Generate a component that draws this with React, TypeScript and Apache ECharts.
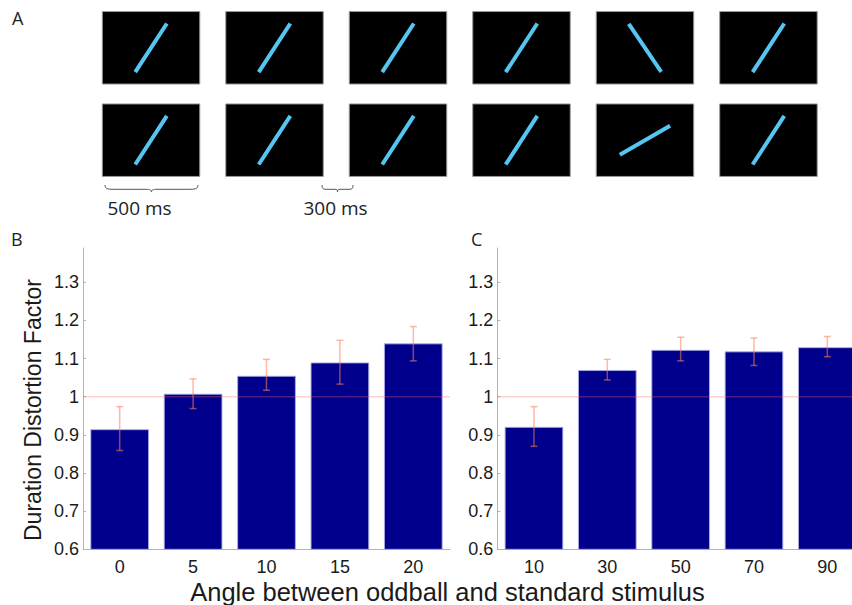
import React, { useEffect, useRef } from "react";
import * as echarts from "echarts";

// Panel A: stimulus sequence (line orientation in degrees)
const stimulusColumns = ["1", "2", "3", "4", "5", "6"];
const stimulusRows = ["seq1", "seq2"];
const row1Angles = [57, 57, 57, 57, 124, 57];
const row2Angles = [57, 57, 57, 57, 30, 57];

// Panel B
const bCategories = ["0", "5", "10", "15", "20"];
const bMeans = [0.915, 1.008, 1.055, 1.09, 1.14];
const bLow = [0.859, 0.969, 1.017, 1.033, 1.094];
const bHigh = [0.974, 1.047, 1.098, 1.148, 1.184];

// Panel C
const cCategories = ["10", "30", "50", "70", "90"];
const cMeans = [0.921, 1.07, 1.123, 1.119, 1.13];
const cLow = [0.87, 1.044, 1.094, 1.082, 1.105];
const cHigh = [0.974, 1.098, 1.156, 1.154, 1.158];

const yMin = 0.6;
const yMax = 1.39;
const yInterval = 0.1;
const refValue = 1;

const BAR = "#00008c";
const ERR = "rgba(255,125,90,0.55)";
const REF = "rgba(255,100,100,0.3)";
const AXIS = "#b4b4b4";
const LABEL_FONT = "Liberation Sans";
const PANEL_FONT = "Open Sans";

echarts.graphic.registerShape(
  "brace500",
  echarts.graphic.extendPath(
    "M0,0 C0,3.5 2,4.3 8,4.3 L41,4.3 C45,4.3 46.5,5 46.5,7 C46.5,5 48,4.3 52,4.3 L85,4.3 C91,4.3 93,3.5 93,0",
    {}
  )
);
echarts.graphic.registerShape(
  "brace300",
  echarts.graphic.extendPath(
    "M0,0 C0,3.5 1,4.3 4,4.3 L13,4.3 C15,4.3 15.5,5 15.5,7 C15.5,5 16,4.3 18,4.3 L27,4.3 C30,4.3 31,3.5 31,0",
    {}
  )
);

function errorSeries(low: number[], high: number[], idx: number) {
  return {
    type: "custom",
    xAxisIndex: idx,
    yAxisIndex: idx,
    z: 5,
    silent: true,
    data: low.map((l, i) => [i, l, high[i]]),
    encode: { x: 0, y: [1, 2] },
    renderItem: (_p: any, api: any) => {
      const x = api.value(0);
      const lo = api.coord([x, api.value(1)]);
      const hi = api.coord([x, api.value(2)]);
      const cap = 3.5;
      const style = { stroke: ERR, lineWidth: 1.5, fill: "none" };
      return {
        type: "group",
        children: [
          { type: "line", shape: { x1: lo[0], y1: lo[1], x2: hi[0], y2: hi[1] }, style },
          { type: "line", shape: { x1: lo[0] - cap, y1: lo[1], x2: lo[0] + cap, y2: lo[1] }, style },
          { type: "line", shape: { x1: hi[0] - cap, y1: hi[1], x2: hi[0] + cap, y2: hi[1] }, style },
        ],
      };
    },
  };
}

function refLineSeries(idx: number) {
  return {
    type: "custom",
    xAxisIndex: idx,
    yAxisIndex: idx,
    z: 6,
    silent: true,
    data: [[0, refValue]],
    encode: { x: 0, y: 1 },
    renderItem: (params: any, api: any) => {
      const cs = params.coordSys;
      const y = api.coord([0, api.value(1)])[1];
      return {
        type: "line",
        shape: { x1: cs.x, y1: y, x2: cs.x + cs.width, y2: y },
        style: { stroke: REF, lineWidth: 1.5 },
      };
    },
  };
}

function barSeries(values: number[], idx: number) {
  return {
    type: "bar",
    xAxisIndex: idx,
    yAxisIndex: idx,
    data: values,
    barWidth: "80%",
    itemStyle: { color: BAR, borderColor: "rgba(170,170,230,0.9)", borderWidth: 1 },
  };
}

function valueAxis(idx: number) {
  return {
    type: "value",
    gridIndex: idx,
    min: yMin,
    max: yMax,
    interval: yInterval,
    axisLine: { show: true, lineStyle: { color: AXIS, width: 1 } },
    axisTick: { show: true, inside: true, length: 3, lineStyle: { color: AXIS } },
    splitLine: { show: false },
    axisLabel: {
      showMaxLabel: false,
      margin: 4,
      fontSize: 18,
      color: "#1a1a1a",
      fontFamily: LABEL_FONT,
      formatter: (v: number) => String(Math.round(v * 10) / 10),
    },
  };
}

function catAxis(cats: string[], idx: number) {
  return {
    type: "category",
    gridIndex: idx,
    data: cats,
    axisLine: { show: true, lineStyle: { color: AXIS, width: 1 } },
    axisTick: { show: false },
    axisLabel: { margin: 9, fontSize: 18, color: "#1a1a1a", fontFamily: LABEL_FONT },
  };
}

export default function App() {
  const ref = useRef<HTMLDivElement>(null);
  useEffect(() => {
    document.body.style.margin = "0";
    if (!ref.current) return;
    const chart = echarts.init(ref.current, undefined, { renderer: "svg" });
    const stimData: number[][] = [];
    row1Angles.forEach((a, i) => stimData.push([i, 0, a]));
    row2Angles.forEach((a, i) => stimData.push([i, 1, a]));

    chart.setOption({
      animation: false,
      backgroundColor: "#ffffff",
      grid: [
        { left: 89.3, top: 1.6, width: 740.9, height: 184.8 },
        { left: 83, top: 248, width: 367, height: 301.3 },
        { left: 497.3, top: 248, width: 366.7, height: 301.3 },
      ],
      xAxis: [
        { type: "category", gridIndex: 0, data: stimulusColumns, show: false },
        catAxis(bCategories, 1),
        catAxis(cCategories, 2),
      ],
      yAxis: [
        { type: "category", gridIndex: 0, data: stimulusRows, inverse: true, show: false },
        valueAxis(1),
        valueAxis(2),
      ],
      series: [
        {
          type: "custom",
          xAxisIndex: 0,
          yAxisIndex: 0,
          silent: true,
          data: stimData,
          encode: { x: 0, y: 1 },
          renderItem: (_p: any, api: any) => {
            const c = api.coord([api.value(0), api.value(1)]);
            const ang = (api.value(2) * Math.PI) / 180;
            const w = 97.5;
            const h = 72.5;
            const half = 27;
            const dx = Math.cos(ang) * half;
            const dy = Math.sin(ang) * half;
            return {
              type: "group",
              children: [
                {
                  type: "rect",
                  shape: { x: c[0] - w / 2, y: c[1] - h / 2, width: w, height: h },
                  style: { fill: "#000000", stroke: "#9a9a9a", lineWidth: 1 },
                },
                {
                  type: "line",
                  shape: { x1: c[0] - dx, y1: c[1] + dy, x2: c[0] + dx, y2: c[1] - dy },
                  style: { stroke: "#55c6f2", lineWidth: 4, lineCap: "square" },
                },
              ],
            };
          },
        },
        barSeries(bMeans, 1),
        errorSeries(bLow, bHigh, 1),
        refLineSeries(1),
        barSeries(cMeans, 2),
        errorSeries(cLow, cHigh, 2),
        refLineSeries(2),
      ],
      graphic: [
        { type: "text", left: 12, top: 9, style: { text: "A", fontSize: 18, fontFamily: PANEL_FONT, fill: "#222" } },
        { type: "text", left: 11, top: 230, style: { text: "B", fontSize: 18, fontFamily: PANEL_FONT, fill: "#222" } },
        { type: "text", left: 471, top: 230, style: { text: "C", fontSize: 18, fontFamily: PANEL_FONT, fill: "#222" } },
        { type: "brace500", x: 105, y: 185, style: { fill: "none", stroke: "#555", lineWidth: 1 } },
        { type: "brace300", x: 322, y: 185, style: { fill: "none", stroke: "#555", lineWidth: 1 } },
        {
          type: "text",
          x: 139.5,
          y: 207.5,
          style: { text: "500 ms", fontSize: 19, fontFamily: PANEL_FONT, fill: "#222", align: "center", verticalAlign: "middle" },
        },
        {
          type: "text",
          x: 335.5,
          y: 207.5,
          style: { text: "300 ms", fontSize: 19, fontFamily: PANEL_FONT, fill: "#222", align: "center", verticalAlign: "middle" },
        },
        {
          type: "text",
          x: 33,
          y: 410,
          rotation: Math.PI / 2,
          style: {
            text: "Duration Distortion Factor",
            fontSize: 23,
            fontFamily: LABEL_FONT,
            fill: "#1a1a1a",
            align: "center",
            verticalAlign: "middle",
          },
        },
        {
          type: "text",
          x: 447.5,
          y: 591.5,
          style: {
            text: "Angle between oddball and standard stimulus",
            fontSize: 25.5,
            fontFamily: LABEL_FONT,
            fill: "#1a1a1a",
            align: "center",
            verticalAlign: "middle",
          },
        },
      ],
    });
    return () => chart.dispose();
  }, []);
  return (
    <div style={{ width: 852, height: 605, overflow: "hidden" }}>
      <div ref={ref} style={{ width: 880, height: 605 }} />
    </div>
  );
}
